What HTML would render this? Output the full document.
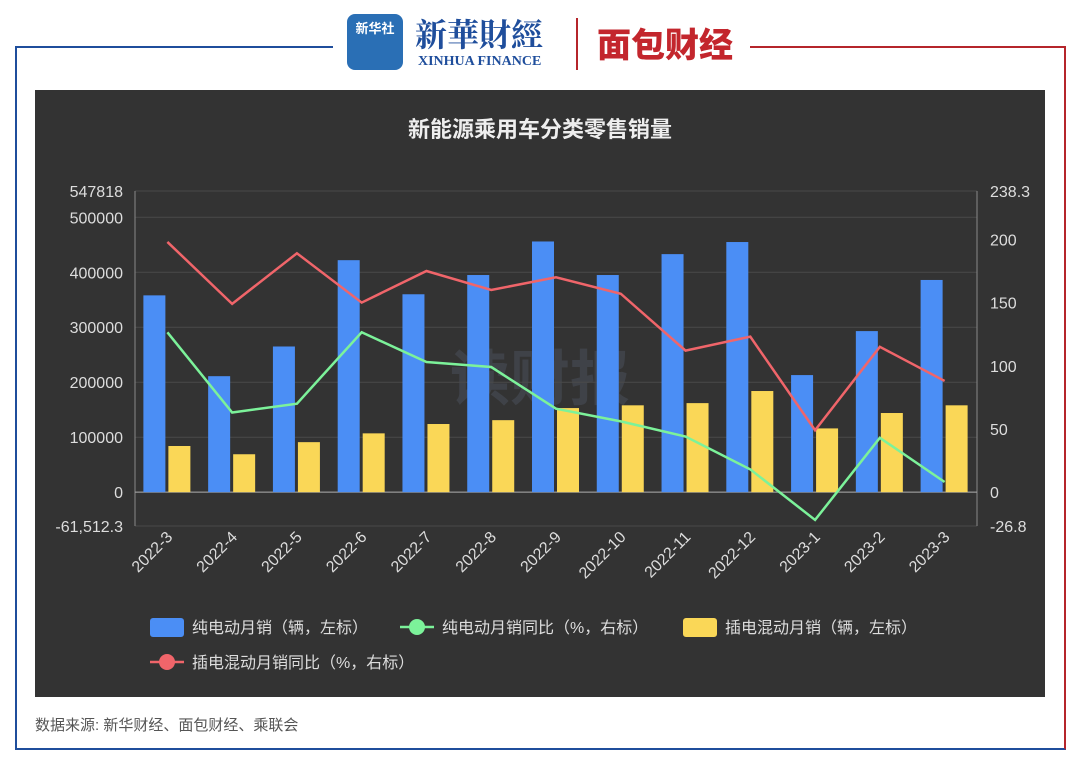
<!DOCTYPE html>
<html><head><meta charset="utf-8">
<style>
body{margin:0;width:1080px;height:764px;background:#fff;font-family:"Liberation Sans","Noto Sans CJK SC",sans-serif;overflow:hidden;position:relative}
.frame{position:absolute;left:15px;top:46px;width:1047px;height:702px;border:2px solid #1f4e9c;border-right-color:#b5252b;border-top:none}
</style></head><body>
<div class="frame"></div>
<div style="position:absolute;left:15px;top:46px;width:318px;height:2px;background:#1f4e9c"></div>
<div style="position:absolute;left:750px;top:46px;width:314px;height:2px;background:#b5252b"></div>
<div style="position:absolute;left:347px;top:14px;width:56px;height:56px;border-radius:8px;background:#2a6fb5;color:#fff;font-size:13px;text-align:center;line-height:30px;font-weight:bold">新华社</div>
<div style="position:absolute;left:415px;top:10px;color:#1f4e9c;font-size:32px;font-weight:bold;font-family:'Noto Serif CJK SC',serif">新華財經</div>
<div style="position:absolute;left:418px;top:54px;color:#1f4e9c;font-size:14px;font-weight:bold;font-family:'Liberation Serif',serif">XINHUA FINANCE</div>
<div style="position:absolute;left:576px;top:18px;width:2px;height:52px;background:#b5252b"></div>
<div style="position:absolute;left:597px;top:18px;color:#c3262d;font-size:34px;font-weight:900">面包财经</div>
<div style="position:absolute;left:35px;top:90px;width:1010px;height:607px;background:#333"></div>
<div style="position:absolute;left:35px;top:714px;color:#555;font-size:15px">数据来源: 新华财经、面包财经、乘联会</div>
<svg id="c" width="1080" height="764" style="position:absolute;left:0;top:0"></svg>
<script>
const categories=["2022-3","2022-4","2022-5","2022-6","2022-7","2022-8","2022-9","2022-10","2022-11","2022-12","2023-1","2023-2","2023-3"];
const bevSales=[358000,211000,265000,422000,360000,395000,456000,395000,433000,455000,213000,293000,386000];
const phevSales=[84000,69000,91000,107000,124000,131000,153000,158000,162000,184000,116000,144000,158000];
const bevYoY=[126.5,63,70,126.5,103,99,66,56,44,18,-22,43,8];
const phevYoY=[198,149,189,150,175,160,170,157,112,123,49,115,88];
const leftTicks=[0,100000,200000,300000,400000,500000];
const rightTicks=[0,50,100,150,200];
const leftMin=-61512.3,leftMax=547818,rightMin=-26.8,rightMax=238.3;
const X0=135,X1=977,Y0=526,Y1=191;
const NS="http://www.w3.org/2000/svg";
const svg=document.getElementById('c');
function yl(v){return Y0-(v-leftMin)/(leftMax-leftMin)*(Y0-Y1);}
function yr(v){return Y0-(v-rightMin)/(rightMax-rightMin)*(Y0-Y1);}
const bw=(X1-X0)/categories.length;
function xc(i){return X0+bw*(i+0.5);}
function el(t,a,txt){const e=document.createElementNS(NS,t);for(const k in a)e.setAttribute(k,a[k]);if(txt!==undefined)e.textContent=txt;svg.appendChild(e);return e;}
let e=el('text',{x:540,y:137,'text-anchor':'middle',fill:'#eee','font-size':22,'font-weight':'bold'},'新能源乘用车分类零售销量');


e=el('text',{x:540,y:400,'text-anchor':'middle',fill:'rgba(120,140,170,0.18)','font-size':60,'font-weight':'bold'},'读财报');


// grid
[leftMin,...leftTicks,leftMax].forEach(v=>{const g=el('line',{x1:X0,x2:X1,y1:yl(v),y2:yl(v),stroke:'#4a4a4a','stroke-width':1});

});
[leftMin,...leftTicks,leftMax].forEach(v=>{const t=el('text',{x:123,y:yl(v)+6,'text-anchor':'end',fill:'#ddd','font-size':16},v===leftMin?'-61,512.3':String(v));

});
[rightMin,...rightTicks,rightMax].forEach(v=>{const t=el('text',{x:990,y:yr(v)+6,fill:'#ddd','font-size':16},String(v));

});
let a=el('line',{x1:X0,x2:X0,y1:Y1,y2:Y0,stroke:'#888'});
a=el('line',{x1:X1,x2:X1,y1:Y1,y2:Y0,stroke:'#888'});
a=el('line',{x1:X0,x2:X1,y1:yl(0),y2:yl(0),stroke:'#aaa'});
categories.forEach((c,i)=>{
 const b=el('rect',{x:xc(i)-24,y:yl(bevSales[i]),width:22,height:yl(0)-yl(bevSales[i]),fill:'#4b8ef5'});
 
 
 const p=el('rect',{x:xc(i)+1,y:yl(phevSales[i]),width:22,height:yl(0)-yl(phevSales[i]),fill:'#fad757'});
 
 
 const t=el('text',{x:0,y:0,'text-anchor':'end',fill:'#ddd','font-size':16,transform:`translate(${xc(i)+6},${Y0+12}) rotate(-45)`},c);
 
 
});
function line(data,color,name){
 const l=el('polyline',{points:data.map((v,i)=>xc(i)+','+yr(v)).join(' '),fill:'none',stroke:color,'stroke-width':2.5});
 
 
}
line(bevYoY,'#7cf29a','line-bev-yoy');
line(phevYoY,'#f0656a','line-phev-yoy');
const legend=[[150,627,'rect','#4b8ef5','纯电动月销（辆，左标）'],[400,627,'line','#7cf29a','纯电动月销同比（%，右标）'],[683,627,'rect','#fad757','插电混动月销（辆，左标）'],[150,662,'line','#f0656a','插电混动月销同比（%，右标）']];
legend.forEach(([x,y,k,c,t])=>{
 if(k==='rect'){const r=el('rect',{x:x,y:y-9,width:34,height:19,rx:3,fill:c});}
 else{const l=el('line',{x1:x,x2:x+34,y1:y,y2:y,stroke:c,'stroke-width':2.5});
 const ci=el('circle',{cx:x+17,cy:y,r:8,fill:c});}
 const tx=el('text',{x:x+42,y:y+6,fill:'#ddd','font-size':16},t);
 
 
});
</script>
</body></html>
